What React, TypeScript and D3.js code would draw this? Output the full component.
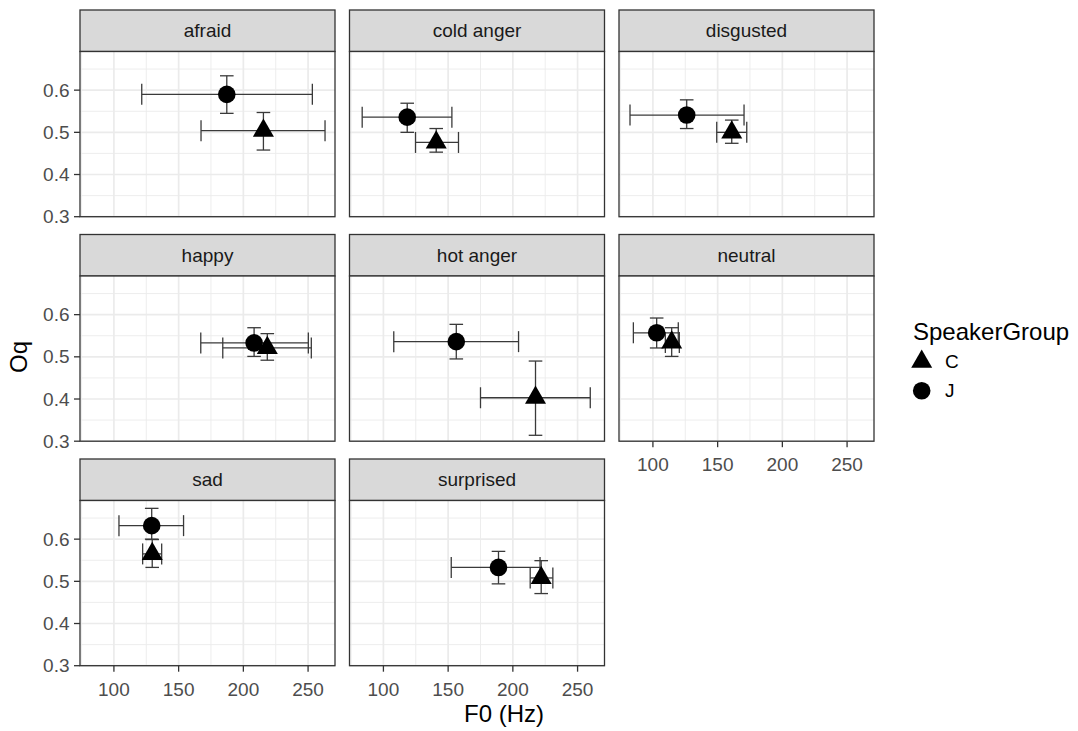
import React from "react";
import * as d3 from "d3";

// Facet order (row-major, 3 columns)
const emotions = ["afraid", "cold anger", "disgusted", "happy", "hot anger", "neutral", "sad", "surprised"];

// Speaker group C: mean F0 (Hz) with interval, mean Oq with interval
const cF0 = [215.5, 140.8, 160.9, 218.5, 217.5, 114.5, 129.6, 221.9];
const cF0Lo = [167.3, 124.8, 149.3, 184.1, 175.0, 109.6, 122.2, 213.4];
const cF0Hi = [263.1, 158.0, 172.5, 252.5, 259.8, 120.4, 136.9, 230.9];
const cOq = [0.504, 0.476, 0.5, 0.521, 0.403, 0.534, 0.565, 0.508];
const cOqLo = [0.458, 0.453, 0.474, 0.492, 0.314, 0.501, 0.533, 0.471];
const cOqHi = [0.547, 0.509, 0.529, 0.555, 0.49, 0.569, 0.599, 0.549];

// Speaker group J
const jF0 = [187.2, 118.4, 126.1, 208.3, 156.3, 102.9, 129.2, 188.9];
const jF0Lo = [121.5, 83.6, 82.3, 167.1, 108.0, 84.9, 103.9, 152.4];
const jF0Hi = [253.3, 152.9, 170.4, 250.2, 204.4, 119.6, 153.8, 221.0];
const jOq = [0.59, 0.536, 0.541, 0.533, 0.536, 0.557, 0.632, 0.533];
const jOqLo = [0.545, 0.5, 0.509, 0.501, 0.495, 0.521, 0.6, 0.494];
const jOqHi = [0.634, 0.569, 0.577, 0.569, 0.577, 0.592, 0.673, 0.571];

const groups = ["C", "J"];
const xTicks = [100, 150, 200, 250];
const yTicks = [0.3, 0.4, 0.5, 0.6];
const xMinor = [75, 125, 175, 225];
const yMinor = [0.35, 0.45, 0.55, 0.65];

const FONT = "'Liberation Sans', Arial, Helvetica, sans-serif";
const W = 1078;
const H = 731;

const colX = [80, 349.5, 619];
const rowY = [10, 234.5, 459];
const panelW = 255;
const stripH = 41.5;
const panelH = 165.2;

const x = d3.scaleLinear().domain([73.8, 270.8]).range([0, panelW]);
const y = d3.scaleLinear().domain([0.3, 0.6916]).range([panelH, 0]);

const triSize = (Math.sqrt(3) / 4) * 21 * 21;
const triPath = d3.symbol().type(d3.symbolTriangle).size(triSize)() as string;
const circR = 8.8;

const barColor = "#3a3a3a";
const barW = 1.3;
const vCap = 6.8; // half width of caps on vertical bars
const hCap = 10.5; // half height of caps on horizontal bars

type Rec = { g: string; f0: number; f0lo: number; f0hi: number; oq: number; oqlo: number; oqhi: number };

function records(i: number): Rec[] {
  return [
    { g: "C", f0: cF0[i], f0lo: cF0Lo[i], f0hi: cF0Hi[i], oq: cOq[i], oqlo: cOqLo[i], oqhi: cOqHi[i] },
    { g: "J", f0: jF0[i], f0lo: jF0Lo[i], f0hi: jF0Hi[i], oq: jOq[i], oqlo: jOqLo[i], oqhi: jOqHi[i] },
  ];
}

function Marker({ g, cx, cy }: { g: string; cx: number; cy: number }) {
  return g === "C" ? (
    <path d={triPath} transform={`translate(${cx},${cy})`} fill="#000" />
  ) : (
    <circle cx={cx} cy={cy} r={circR} fill="#000" />
  );
}

function Panel({ i }: { i: number }) {
  const col = i % 3;
  const row = Math.floor(i / 3);
  const px = colX[col];
  const py = rowY[row] + stripH;
  const showY = col === 0;
  const showX = row === 2 || i === 5;
  const recs = records(i);
  return (
    <g>
      {/* strip */}
      <rect x={px} y={rowY[row]} width={panelW} height={stripH} fill="#D9D9D9" stroke="#333" strokeWidth={1.3} />
      <text x={px + panelW / 2} y={rowY[row] + stripH / 2} dy="0.35em" textAnchor="middle" fontSize={19} fill="#1A1A1A" fontFamily={FONT}>
        {emotions[i]}
      </text>
      <g transform={`translate(${px},${py})`}>
        <rect width={panelW} height={panelH} fill="#fff" />
        {xMinor.map((v) => (
          <line key={"xm" + v} x1={x(v)} x2={x(v)} y1={0} y2={panelH} stroke="#EBEBEB" strokeWidth={0.9} />
        ))}
        {yMinor.map((v) => (
          <line key={"ym" + v} x1={0} x2={panelW} y1={y(v)} y2={y(v)} stroke="#EBEBEB" strokeWidth={0.9} />
        ))}
        {xTicks.map((v) => (
          <line key={"xM" + v} x1={x(v)} x2={x(v)} y1={0} y2={panelH} stroke="#EBEBEB" strokeWidth={1.7} />
        ))}
        {yTicks.map((v) => (
          <line key={"yM" + v} x1={0} x2={panelW} y1={y(v)} y2={y(v)} stroke="#EBEBEB" strokeWidth={1.7} />
        ))}
        {/* vertical error bars */}
        {recs.map((r) => (
          <g key={"v" + r.g} stroke={barColor} strokeWidth={barW}>
            <line x1={x(r.f0)} x2={x(r.f0)} y1={y(r.oqlo)} y2={y(r.oqhi)} />
            <line x1={x(r.f0) - vCap} x2={x(r.f0) + vCap} y1={y(r.oqlo)} y2={y(r.oqlo)} />
            <line x1={x(r.f0) - vCap} x2={x(r.f0) + vCap} y1={y(r.oqhi)} y2={y(r.oqhi)} />
          </g>
        ))}
        {/* horizontal error bars */}
        {recs.map((r) => (
          <g key={"h" + r.g} stroke={barColor} strokeWidth={barW}>
            <line x1={x(r.f0lo)} x2={x(r.f0hi)} y1={y(r.oq)} y2={y(r.oq)} />
            <line x1={x(r.f0lo)} x2={x(r.f0lo)} y1={y(r.oq) - hCap} y2={y(r.oq) + hCap} />
            <line x1={x(r.f0hi)} x2={x(r.f0hi)} y1={y(r.oq) - hCap} y2={y(r.oq) + hCap} />
          </g>
        ))}
        {recs.map((r) => (
          <Marker key={"m" + r.g} g={r.g} cx={x(r.f0)} cy={y(r.oq)} />
        ))}
        <rect width={panelW} height={panelH} fill="none" stroke="#333" strokeWidth={1.3} />
        {showY &&
          yTicks.map((v) => (
            <g key={"yt" + v}>
              <line x1={-6} x2={0} y1={y(v)} y2={y(v)} stroke="#333" strokeWidth={1.3} />
              <text x={-10.5} y={y(v)} dy="0.35em" textAnchor="end" fontSize={19} fill="#4D4D4D" fontFamily={FONT}>
                {v.toFixed(1)}
              </text>
            </g>
          ))}
        {showX &&
          xTicks.map((v) => (
            <g key={"xt" + v}>
              <line x1={x(v)} x2={x(v)} y1={panelH} y2={panelH + 6} stroke="#333" strokeWidth={1.3} />
              <text x={x(v)} y={panelH + 23.5} dy="0.35em" textAnchor="middle" fontSize={19} fill="#4D4D4D" fontFamily={FONT}>
                {v}
              </text>
            </g>
          ))}
      </g>
    </g>
  );
}

export default function App() {
  return (
    <svg
      width={W}
      height={H}
      style={{ position: "absolute", left: 0, top: 0, background: "#fff" }}
      fontFamily={FONT}
    >
      <rect width={W} height={H} fill="#fff" />
      {emotions.map((e, i) => (
        <Panel key={e} i={i} />
      ))}
      {/* axis titles */}
      <text x={504} y={722} textAnchor="middle" fontSize={24} fill="#000">
        F0 (Hz)
      </text>
      <text transform="translate(27,357) rotate(-90)" textAnchor="middle" fontSize={24} fill="#000">
        Oq
      </text>
      {/* legend */}
      <text x={913} y={340} fontSize={24} fill="#000">
        SpeakerGroup
      </text>
      {groups.map((g, k) => (
        <g key={g}>
          <Marker g={g} cx={921.7} cy={361.7 + k * 29} />
          <text x={945} y={361.7 + k * 29} dy="0.35em" fontSize={19} fill="#000">
            {g}
          </text>
        </g>
      ))}
    </svg>
  );
}
